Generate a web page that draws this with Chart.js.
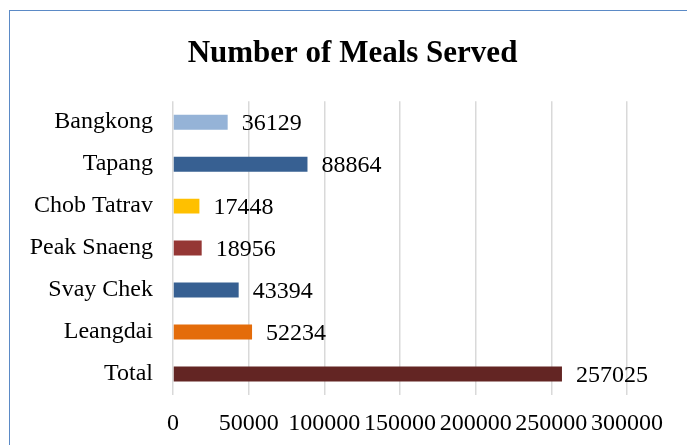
<!DOCTYPE html>
<html>
<head>
<meta charset="utf-8">
<script src="https://cdn.jsdelivr.net/npm/chart.js@4/dist/chart.umd.min.js"></script>
<style>
html,body{margin:0;padding:0;background:#fff;overflow:hidden;}
#wrap{position:relative;width:687px;height:445px;}
#frame{position:absolute;left:9px;top:10px;width:720px;height:480px;border:1.5px solid #5b8ac6;box-sizing:border-box;}
canvas{position:absolute;left:0;top:0;}
</style>
</head>
<body>
<div id="wrap">
<div id="frame"></div>
<canvas id="c" width="687" height="445"></canvas>
</div>
<script>
const categories = ["Bangkong", "Tapang", "Chob Tatrav", "Peak Snaeng", "Svay Chek", "Leangdai", "Total"];
const meals = [36129, 88864, 17448, 18956, 43394, 52234, 257025];
const barColors = ["#95b3d7", "#376092", "#ffc000", "#953735", "#376092", "#e46c0a", "#632523"];
const xTicks = [0, 50000, 100000, 150000, 200000, 250000, 300000];

const serif = '"Liberation Serif", "Times New Roman", serif';

const valueLabels = {
  id: 'valueLabels',
  afterDatasetsDraw(chart) {
    const ctx = chart.ctx;
    const meta = chart.getDatasetMeta(0);
    ctx.save();
    ctx.font = '24px ' + serif;
    ctx.fillStyle = '#000';
    ctx.textAlign = 'left';
    ctx.textBaseline = 'middle';
    meta.data.forEach((bar, i) => {
      ctx.fillText(String(meals[i]), bar.x + 14, bar.y + 2);
    });
    ctx.restore();
  }
};

new Chart(document.getElementById('c'), {
  type: 'bar',
  data: {
    labels: categories,
    datasets: [{
      data: meals,
      backgroundColor: barColors,
      borderWidth: 0,
      categoryPercentage: 1,
      barPercentage: 0.357
    }]
  },
  options: {
    indexAxis: 'y',
    responsive: false,
    animation: false,
    devicePixelRatio: 1,
    layout: { padding: { left: 18, right: 0, top: 11, bottom: 7 } },
    plugins: {
      legend: { display: false },
      tooltip: { enabled: false },
      title: {
        display: true,
        text: 'Number of Meals Served',
        color: '#000',
        font: { family: serif, size: 31, weight: 'bold', lineHeight: 1.2 },
        padding: { top: 24, bottom: 29 }
      }
    },
    scales: {
      x: {
        min: 0,
        max: 300000,
        afterBuildTicks(scale) { scale.ticks = xTicks.map(v => ({ value: v })); },
        afterFit(scale) { scale.height = 43; scale.paddingRight = 60; },
        grid: { color: '#d9d9d9', lineWidth: 1.5, drawTicks: false },
        border: { display: false },
        ticks: {
          color: '#000',
          font: { family: serif, size: 24, lineHeight: 1.2 },
          padding: 14,
          maxRotation: 0,
          autoSkip: false,
          callback: (v) => String(v)
        }
      },
      y: {
        afterFit(scale) { scale.width = 155; scale.paddingTop = 0; scale.paddingBottom = 0; },
        grid: { display: false, drawTicks: false },
        border: { display: false },
        ticks: {
          color: '#000',
          font: { family: serif, size: 24 },
          padding: 20,
          autoSkip: false
        }
      }
    }
  },
  plugins: [valueLabels]
});
</script>
</body>
</html>
